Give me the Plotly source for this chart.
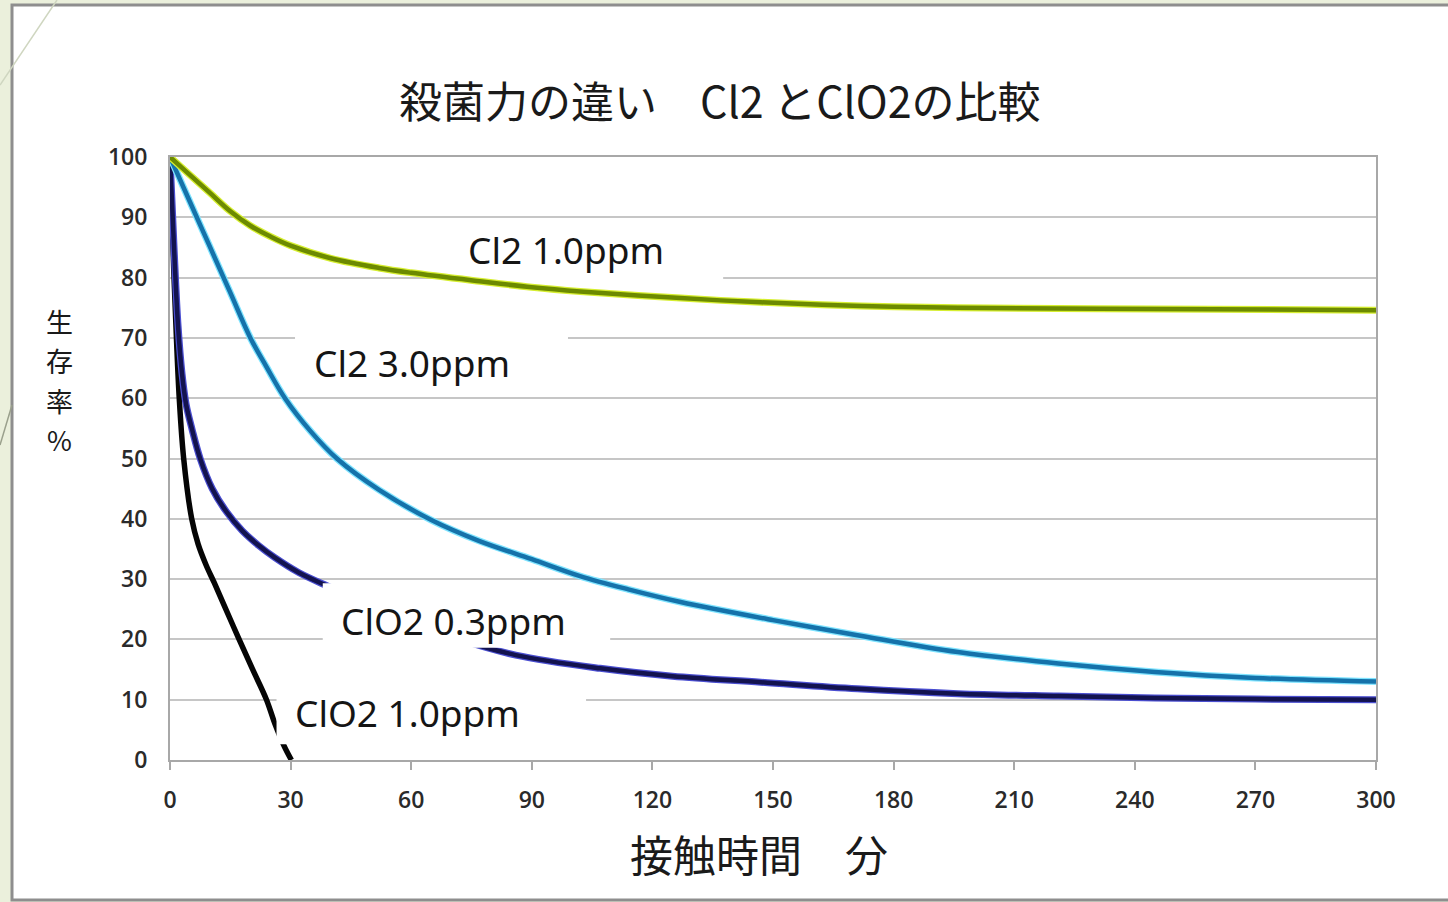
import plotly.graph_objects as go

# ---- data ----
x_cl2_10 = [0, 5, 10, 15, 20, 25, 30, 40, 52, 60, 77, 90, 102, 127, 147, 172, 196, 245, 300]
y_cl2_10 = [100, 97, 94, 91, 88.6, 86.8, 85.3, 83.2, 81.6, 80.8, 79.4, 78.4, 77.7, 76.6, 75.9, 75.3, 75.0, 74.8, 74.6]

x_cl2_30 = [0, 5, 10, 15, 20, 24, 28.6, 35, 41.5, 52, 65, 77, 90, 102, 114, 127, 150, 171, 196, 221, 245, 270, 300]
y_cl2_30 = [100, 92.5, 85, 77.5, 70, 65.2, 60, 54.5, 50, 44.8, 39.8, 36.3, 33.3, 30.5, 28.3, 26.2, 23.2, 20.7, 17.9, 16.0, 14.6, 13.6, 13.0]

x_clo2_03 = [0, 1, 2, 3, 4, 5.5, 7.5, 10.5, 14, 18, 22, 26, 32, 40, 50, 60, 70, 86, 107, 125, 147, 171, 196, 221, 245, 270, 300]
y_clo2_03 = [100, 85, 72, 64, 59, 54.8, 50, 45, 41.2, 38, 35.6, 33.6, 31.1, 28.6, 25.6, 22.8, 20.4, 17.4, 15.2, 13.9, 12.9, 11.8, 11.0, 10.6, 10.3, 10.1, 10.0]

x_clo2_10 = [0, 0.5, 1, 1.6, 2.3, 3.4, 5.4, 7, 9, 11, 13.5, 17, 20.5, 24, 26.1, 28.4, 30.2]
y_clo2_10 = [100, 90, 80, 70, 60, 50, 40, 35.8, 32.3, 29.4, 25.6, 20.3, 15.1, 10, 6.0, 2.3, 0]

series_names = ["Cl2 1.0ppm", "Cl2 3.0ppm", "ClO2 0.3ppm", "ClO2 1.0ppm"]
x_ticks = [0, 30, 60, 90, 120, 150, 180, 210, 240, 270, 300]
y_ticks = [0, 10, 20, 30, 40, 50, 60, 70, 80, 90, 100]

title_text = "殺菌力の違い　Cl2 とClO2の比較"
x_title = "接触時間　分"
y_title_chars = ["生", "存", "率", "%"]

# ---- figure ----
W, H = 1448, 902
L, R, T, B = 170, 72, 157, 142
PW, PH = W - L - R, H - T - B

def px(xp):
    return (xp - L) / PW

def py(yp):
    return (H - B - yp) / PH

fig = go.Figure()

styles = [
    (x_clo2_10, y_clo2_10, None, "#050505", 5.5),
    (x_clo2_03, y_clo2_03, "#4a4ed0", "#13134f", 4.5),
    (x_cl2_30, y_cl2_30, "#7fe4ff", "#1572aa", 4.5),
    (x_cl2_10, y_cl2_10, "#d6ee30", "#6c8a00", 4.5),
]
names = [series_names[3], series_names[2], series_names[1], series_names[0]]
for (xs, ys, glow, core, w), nm in zip(styles, names):
    if glow:
        fig.add_trace(go.Scatter(x=xs, y=ys, mode="lines", name=nm, showlegend=False,
                                 hoverinfo="skip",
                                 line=dict(color=glow, width=w + 2.5, shape="spline", smoothing=1.0)))
    fig.add_trace(go.Scatter(x=xs, y=ys, mode="lines", name=nm, showlegend=False,
                             line=dict(color=core, width=w, shape="spline", smoothing=1.0)))

shapes = [
    # slide frame
    dict(type="rect", xref="paper", yref="paper", x0=px(12), x1=px(1470), y0=py(900), y1=py(5),
         fillcolor="white", line=dict(color="#8e8e8e", width=3), layer="below"),
    # faint slide decorations
    dict(type="line", xref="paper", yref="paper", x0=px(57), y0=py(0), x1=px(0), y1=py(85),
         line=dict(color="#cfd6c0", width=1.5), layer="below"),
    dict(type="line", xref="paper", yref="paper", x0=px(12), y0=py(405), x1=px(0), y1=py(445),
         line=dict(color="#9aa08c", width=1.5), layer="below"),
    # label boxes
    dict(type="rect", xref="x", yref="y", x0=69.6, x1=137.6, y0=79.7, y1=88.2,
         fillcolor="white", line=dict(width=0), layer="between"),
    dict(type="rect", xref="x", yref="y", x0=31.1, x1=99, y0=61.5, y1=71.5,
         fillcolor="white", line=dict(width=0), layer="between"),
    dict(type="rect", xref="x", yref="y", x0=38, x1=100, y0=18.6, y1=29.3,
         fillcolor="white", line=dict(width=0), layer="above"),
    dict(type="rect", xref="x", yref="y", x0=99.5, x1=109.5, y0=18.6, y1=26,
         fillcolor="white", line=dict(width=0), layer="above"),
    dict(type="rect", xref="x", yref="y", x0=26.5, x1=103.5, y0=2.6, y1=11.6,
         fillcolor="white", line=dict(width=0), layer="above"),
]

label_font = dict(family="Noto Sans", size=37, color="#151515")
annotations = [
    dict(x=98.5, y=84.7, xref="x", yref="y", text=series_names[0], showarrow=False, font=label_font),
    dict(x=60.1, y=66.0, xref="x", yref="y", text=series_names[1], showarrow=False, font=label_font),
    dict(x=70.6, y=23.1, xref="x", yref="y", text=series_names[2], showarrow=False, font=label_font),
    dict(x=59.1, y=7.8, xref="x", yref="y", text=series_names[3], showarrow=False, font=label_font),
    dict(x=px(720), y=py(99), xref="paper", yref="paper", text=title_text, showarrow=False,
         xanchor="center", yanchor="middle",
         font=dict(family="Noto Sans CJK JP", size=43, color="#1a1a1a")),
    dict(x=px(759), y=py(853), xref="paper", yref="paper", text=x_title, showarrow=False,
         xanchor="center", yanchor="middle",
         font=dict(family="Noto Sans CJK JP", size=43, color="#1a1a1a")),
]
for ch, yp in zip(y_title_chars, [321, 360.5, 400, 439.5]):
    annotations.append(dict(x=px(59), y=py(yp), xref="paper", yref="paper", text=ch,
                            showarrow=False, xanchor="center", yanchor="middle",
                            font=dict(family="Noto Sans CJK JP", size=27, color="#1a1a1a")))

tick_font = dict(family="Open Sans", size=23, color="#2a2a2a", weight=600)

fig.update_layout(
    width=W, height=H,
    margin=dict(l=L, r=R, t=T, b=B),
    paper_bgcolor="#ebf0dc",
    plot_bgcolor="white",
    shapes=shapes,
    annotations=annotations,
    showlegend=False,
    xaxis=dict(range=[0, 300], tickvals=x_ticks, ticktext=[str(v) for v in x_ticks],
               showgrid=False, zeroline=False, showline=True, linecolor="#a8a8a8", linewidth=2,
               mirror=True, ticks="outside", ticklen=8, tickwidth=2, tickcolor="#a8a8a8",
               tickfont=tick_font, ticklabelstandoff=10),
    yaxis=dict(range=[0, 100], tickvals=y_ticks, ticktext=[str(v) for v in y_ticks],
               showgrid=True, gridcolor="#c6c6c6", gridwidth=2, zeroline=False,
               showline=True, linecolor="#a8a8a8", linewidth=2, mirror=True,
               ticks="", tickfont=tick_font, ticklabelstandoff=16),
)

fig.write_html(
    "out.html",
    config={"displayModeBar": False},
    post_script="document.body.style.margin='0px';document.body.style.background='#ebf0dc';",
)
